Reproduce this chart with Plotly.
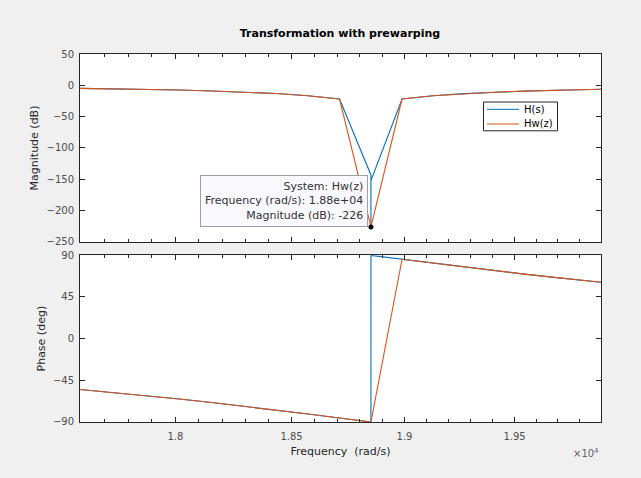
import math
import plotly.graph_objects as go
from plotly.subplots import make_subplots

# analog notch H(s), sampled frequencies (rad/s)
freq_hs = [17599, 17738, 17877, 18016, 18155, 18294, 18433, 18572, 18711,
           18849.9, 18850, 18850.1,
           18989, 19128, 19267, 19406, 19545, 19684, 19823, 19902]
mag_hs = [-4.8, -5.5, -6.4, -7.5, -8.9, -10.7, -13.0, -16.5, -21.8,
          -143, -226, -152,
          -21.8, -16.6, -13.2, -10.9, -9.2, -7.9, -6.8, -6.3]
phase_hs = [-54.9, -58.1, -61.5, -65.1, -69.0, -73.0, -77.1, -81.4, -85.7,
            -89.9, -90, 89.9,
            85.7, 81.5, 77.4, 73.4, 69.7, 66.1, 62.7, 60.9]

# prewarped bilinear Hw(z)
freq_hz = [17599, 17738, 17877, 18016, 18155, 18294, 18433, 18572, 18711,
           18850,
           18989, 19128, 19267, 19406, 19545, 19684, 19823, 19902]
mag_hz = [-4.8, -5.5, -6.4, -7.5, -8.9, -10.7, -13.0, -16.5, -21.8,
          -226,
          -21.8, -16.6, -13.2, -10.9, -9.2, -7.9, -6.8, -6.3]
phase_hz = [-54.9, -58.1, -61.5, -65.1, -69.0, -73.0, -77.1, -81.4, -85.7,
            -90,
            85.7, 81.5, 77.4, 73.4, 69.7, 66.1, 62.7, 60.9]

tip_freq = 18850
tip_mag = -226

names = ['H(s)', 'Hw(z)']

major_vals = [18000, 18500, 19000, 19500]
major_text = ['1.8', '1.85', '1.9', '1.95']
minor_vals = [v for v in range(17600, 19901, 100) if v not in major_vals]

blue = '#0072BD'
orange = '#D95319'
axcol = '#262626'
font = 'DejaVu Sans'
W, H = 641, 478


def px(x):
    return x / W


def py(y):
    return (H - y) / H


fig = make_subplots(rows=2, cols=1)

fig.add_trace(go.Scatter(x=freq_hs, y=mag_hs, mode='lines', name=names[0],
                         line=dict(color=blue, width=1.1)), row=1, col=1)
fig.add_trace(go.Scatter(x=freq_hz, y=mag_hz, mode='lines', name=names[1],
                         line=dict(color=orange, width=1.1)), row=1, col=1)
fig.add_trace(go.Scatter(x=freq_hs, y=phase_hs, mode='lines',
                         line=dict(color=blue, width=1.1)), row=2, col=1)
fig.add_trace(go.Scatter(x=freq_hz, y=phase_hz, mode='lines',
                         line=dict(color=orange, width=1.1)), row=2, col=1)
fig.add_trace(go.Scatter(x=[tip_freq], y=[tip_mag], mode='markers',
                         marker=dict(color='black', size=5)), row=1, col=1)

xr = [math.log10(17599), math.log10(19902)]
xcommon = dict(type='log', range=xr, tickvals=major_vals, ticktext=major_text,
               ticks='inside', ticklen=5, tickcolor=axcol, showline=True,
               linecolor=axcol, linewidth=1, mirror='allticks', showgrid=False,
               zeroline=False, domain=[px(80), px(601)], ticklabelstandoff=5,
               minor=dict(tickvals=minor_vals, ticks='inside', ticklen=3,
                          tickcolor=axcol, showgrid=False),
               tickfont=dict(family=font, size=10, color='#4d4d4d'))
ycommon = dict(ticks='inside', ticklen=5, tickcolor=axcol, showline=True,
               linecolor=axcol, linewidth=1, mirror='allticks', showgrid=False,
               zeroline=False, ticklabelstandoff=3,
               tickfont=dict(family=font, size=10, color='#4d4d4d'))

fig.update_xaxes(**xcommon)
fig.update_xaxes(showticklabels=False, row=1, col=1)
fig.update_xaxes(title=dict(text='Frequency  (rad/s)', standoff=6,
                            font=dict(family=font, size=11, color='#262626')),
                 row=2, col=1)
fig.update_yaxes(**ycommon)
fig.update_yaxes(range=[-250, 50], dtick=50, domain=[py(242), py(49.3)],
                 title=dict(text='Magnitude (dB)', standoff=5,
                            font=dict(family=font, size=11, color='#262626')),
                 row=1, col=1)
fig.update_yaxes(range=[-90, 90], tickvals=[-90, -45, 0, 45, 90],
                 domain=[py(426.7), py(255.7)],
                 title=dict(text='Phase (deg)', standoff=5,
                            font=dict(family=font, size=11, color='#262626')),
                 row=2, col=1)

# data tip
fig.add_annotation(x=math.log10(tip_freq), y=tip_mag, xref='x', yref='y',
                   text='System: Hw(z)<br>Frequency (rad/s): 1.88e+04<br>Magnitude (dB): -226',
                   showarrow=False, xanchor='right', yanchor='bottom', xshift=-3,
                   align='right', bgcolor='#f8f8fd', bordercolor='#a0a0a0',
                   borderwidth=1, borderpad=4,
                   font=dict(family=font, size=11, color='#333333'))
fig.add_annotation(x=px(601), y=py(459), xref='paper', yref='paper',
                   text='×10<sup>4</sup>', showarrow=False, xanchor='right',
                   yanchor='middle', font=dict(family=font, size=10, color='#606060'))

# compact MATLAB-style legend box
fig.add_shape(type='rect', xref='paper', yref='paper',
              x0=px(483.5), x1=px(557.5), y0=py(128), y1=py(98.5),
              line=dict(color='#262626', width=1), fillcolor='white')
for i, (nm, col) in enumerate(zip(names, [blue, orange])):
    yy = 106 + i * 15
    fig.add_shape(type='line', xref='paper', yref='paper',
                  x0=px(487), x1=px(519), y0=py(yy), y1=py(yy),
                  line=dict(color=col, width=1))
    fig.add_annotation(x=px(522), y=py(yy), xref='paper', yref='paper', text=nm,
                       showarrow=False, xanchor='left', yanchor='middle',
                       font=dict(family=font, size=10, color='black'))

fig.update_layout(
    width=W, height=H,
    paper_bgcolor='#f0f0f0', plot_bgcolor='white',
    margin=dict(l=0, r=0, t=0, b=0),
    title=dict(text='<b>Transformation with prewarping</b>', x=px(340), xanchor='center',
               y=py(33), yanchor='middle',
               font=dict(family=font, size=11, color='black')),
    showlegend=False,
)

# drop the page's default body margin so the figure sits at the window corner
fig.write_html('out.html', config={'displayModeBar': False},
               post_script="document.body.style.margin='0';"
                           "document.body.style.background='#f0f0f0';")
